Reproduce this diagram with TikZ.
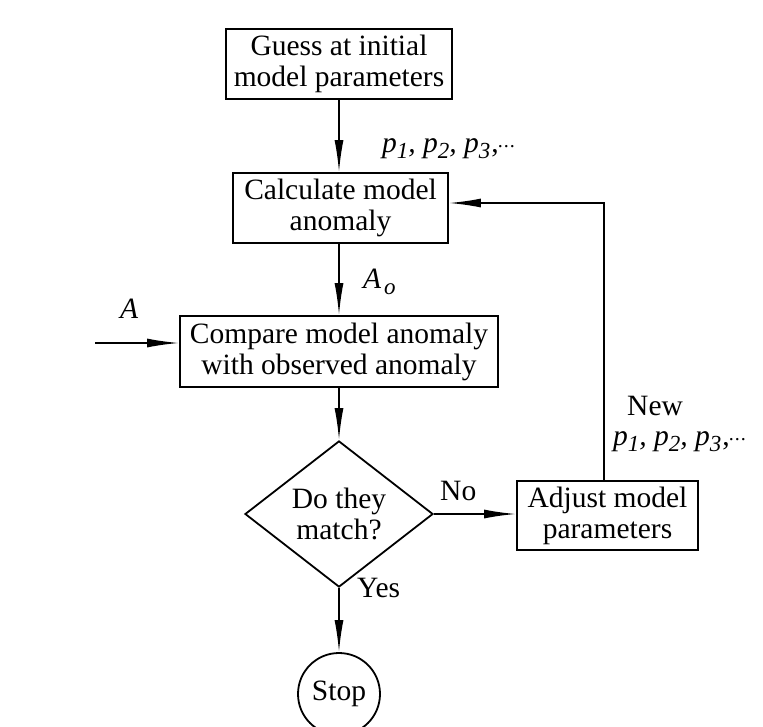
\documentclass[tikz,border=0pt]{standalone}
\usepackage{fontspec}
\setmainfont{Liberation Serif}
\usetikzlibrary{shapes.geometric,arrows.meta}
\newcommand{\sbx}[1]{\raisebox{-0.45ex}{\fontsize{23}{23}\selectfont #1}}
\newcommand{\plist}{\textit{p\sbx{1}, p\sbx{2}, p\sbx{3}}\kern1pt,\raisebox{5pt}{\fontsize{20}{20}\selectfont\kern-1pt.\kern1pt.\kern1pt.}}
\begin{document}
\begin{tikzpicture}[x=1pt,y=-1pt,
  box/.style={draw,line width=1.8pt,align=center,inner sep=0pt,
    font=\fontsize{29.5}{31}\selectfont},
  dia/.style={draw,diamond,line width=1.8pt,align=center,inner sep=0pt,
    font=\fontsize{29.5}{31}\selectfont},
  term/.style={draw,circle,line width=1.8pt,inner sep=0pt,
    font=\fontsize{29.5}{31}\selectfont},
  arr/.style={line width=1.8pt,-{Latex[length=32pt,width=9pt]}},
  lbl/.style={inner sep=0pt,anchor=base west,font=\fontsize{29.5}{31}\selectfont}]
\useasboundingbox (0,0) rectangle (763,726);
\node[box,minimum width=226pt,minimum height=70pt] (g) at (339,64) {Guess at initial\\model parameters};
\node[box,minimum width=215pt,minimum height=70pt] (c) at (340.5,208) {Calculate model\\anomaly};
\node[box,minimum width=318pt,minimum height=71pt] (m) at (339,351.5) {Compare model anomaly\\with observed anomaly};
\node[dia,minimum width=188pt,minimum height=108pt] (d) at (339,514) {Do they\\match?};
\node[box,minimum width=181pt,minimum height=69pt] (a) at (607.5,515.5) {Adjust model\\parameters};
\node[term,minimum size=82pt] (s) at (339,694) {Stop};
\coordinate (ain) at (95,343);

\draw[arr] (g.south) -- (g.south |- c.north);
\draw[arr] (c.south -| m.north) -- (m.north);
\draw[arr] (ain) -- (ain -| m.west);
\draw[arr] (m.south) -- (d.north);
\draw[arr] (d.east) -- (d.east -| a.west);
\draw[arr] (d.south) -- (s.north);
\draw[arr] ([xshift=-3.5pt]a.north) |- ([yshift=5pt]c.east);

\node[lbl] (l1) at (382,152) {\plist};
\node[lbl] (l2) at (363,288) {\textit{A\kern3pt\sbx{o}}};
\node[lbl] (l3) at (120,318) {\textit{A}};
\node[lbl] (l4) at (440,500) {No};
\node[lbl] (l5) at (357,597) {Yes};
\node[lbl] (l6) at (627,415) {New};
\node[lbl] (l7) at (613,445) {\plist};
\end{tikzpicture}
\end{document}
